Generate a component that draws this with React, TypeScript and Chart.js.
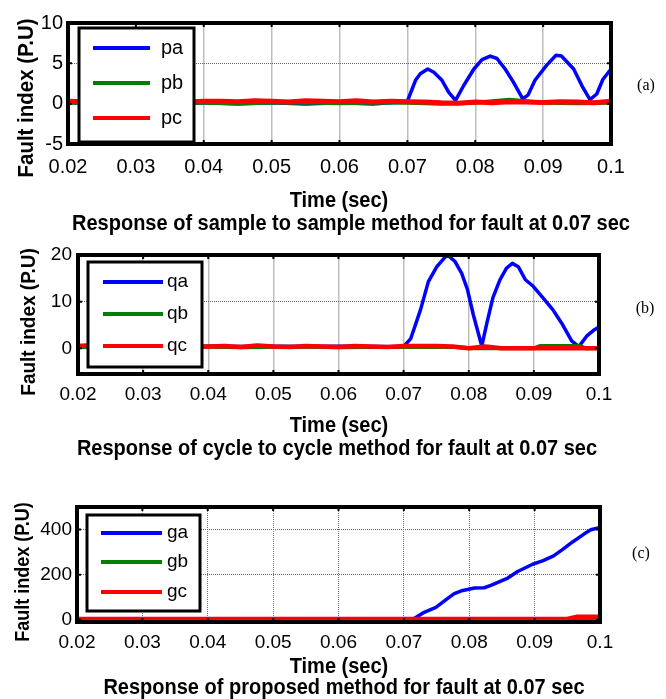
import React, { useEffect, useRef } from "react";
import { Chart, registerables } from "chart.js";

Chart.register(...registerables);

// ---------- shared axis data ----------
const X_TICKS = [0.02, 0.03, 0.04, 0.05, 0.06, 0.07, 0.08, 0.09, 0.1];
const X_TICK_LABELS = ["0.02", "0.03", "0.04", "0.05", "0.06", "0.07", "0.08", "0.09", "0.1"];

// ---------- panel (a): sample to sample ----------
const A_Y_TICKS = [-5, 0, 5, 10];
const A_Y_LABELS = ["-5", "0", "5", "10"];
const PA_T = [0.02, 0.025, 0.03, 0.035, 0.04, 0.045, 0.05, 0.055, 0.06, 0.065, 0.07, 0.0712, 0.0719, 0.073, 0.0739, 0.0751, 0.0761, 0.0771, 0.0783, 0.0798, 0.081, 0.0822, 0.0832, 0.0844, 0.0856, 0.087, 0.0878, 0.0888, 0.0905, 0.0919, 0.0927, 0.0945, 0.0957, 0.0969, 0.0979, 0.0988, 0.1];
const PA_V = [0.1, 0.15, 0.1, 0.05, 0.1, -0.05, 0.1, -0.05, 0.1, -0.05, 0.3, 2.9, 3.7, 4.3, 3.9, 2.9, 1.4, 0.4, 2.25, 4.3, 5.45, 5.9, 5.6, 4.3, 2.7, 0.6, 1.1, 2.9, 4.75, 6.0, 5.9, 4.3, 2.25, 0.5, 1.2, 3.0, 4.3];
const PB_T = [0.02, 0.025, 0.03, 0.035, 0.04, 0.045, 0.05, 0.055, 0.06, 0.065, 0.07, 0.075, 0.08, 0.085, 0.09, 0.095, 0.1];
const PB_V = [0.1, 0.05, 0.1, 0.15, 0.1, 0.05, 0.1, 0.15, 0.05, 0.1, 0.1, 0.0, 0.1, 0.5, 0.1, 0.05, 0.1];
const PC_T = [0.02, 0.0225, 0.025, 0.0275, 0.03, 0.0325, 0.035, 0.0375, 0.04, 0.0425, 0.045, 0.0475, 0.05, 0.0525, 0.055, 0.0575, 0.06, 0.0625, 0.065, 0.0675, 0.07, 0.0725, 0.075, 0.0775, 0.08, 0.0825, 0.085, 0.0875, 0.09, 0.0925, 0.095, 0.0975, 0.1];
const PC_V = [0.3, 0.25, 0.35, 0.2, 0.3, 0.25, 0.35, 0.2, 0.3, 0.3, 0.25, 0.35, 0.3, 0.2, 0.35, 0.3, 0.25, 0.35, 0.2, 0.3, 0.25, 0.2, 0.1, 0.05, 0.2, 0.1, 0.25, 0.2, 0.15, 0.25, 0.2, 0.1, 0.3];

// ---------- panel (b): cycle to cycle ----------
const B_Y_TICKS = [0, 10, 20];
const B_Y_LABELS = ["0", "10", "20"];
const QA_T = [0.02, 0.025, 0.03, 0.035, 0.04, 0.045, 0.05, 0.055, 0.06, 0.065, 0.07, 0.0711, 0.0726, 0.0738, 0.0751, 0.0764, 0.0769, 0.0779, 0.0789, 0.0798, 0.0807, 0.082, 0.0828, 0.0837, 0.0848, 0.0858, 0.0867, 0.0876, 0.0887, 0.0899, 0.0914, 0.0929, 0.0944, 0.0958, 0.0969, 0.0981, 0.0993, 0.1];
const QA_V = [0.45, 0.4, 0.45, 0.4, 0.45, 0.4, 0.45, 0.4, 0.45, 0.4, 0.36, 2.1, 8.3, 14.3, 17.5, 19.6, 19.8, 18.6, 16.1, 12.6, 7.2, 0.5, 5.5, 10.8, 14.7, 17.2, 18.2, 17.5, 14.7, 13.3, 10.8, 8.3, 5.1, 1.6, 0.36, 2.6, 4.0, 4.6];
const QB_T = [0.02, 0.025, 0.03, 0.035, 0.04, 0.045, 0.05, 0.055, 0.06, 0.065, 0.07, 0.075, 0.078, 0.08, 0.085, 0.09, 0.091, 0.097, 0.098, 0.1];
const QB_V = [0.3, 0.35, 0.25, 0.3, 0.35, 0.25, 0.3, 0.35, 0.25, 0.3, 0.3, 0.3, 0.3, 0, 0, 0, 0.5, 0.5, 0, 0];
const QC_T = [0.02, 0.0225, 0.025, 0.0275, 0.03, 0.0325, 0.035, 0.0375, 0.04, 0.0425, 0.045, 0.0475, 0.05, 0.0525, 0.055, 0.0575, 0.06, 0.0625, 0.065, 0.0675, 0.07, 0.0725, 0.075, 0.0775, 0.08, 0.0825, 0.085, 0.0875, 0.09, 0.0925, 0.095, 0.0975, 0.1];
const QC_V = [0.5, 0.7, 0.4, 0.5, 0.3, 0.4, 0.5, 0.3, 0.4, 0.5, 0.3, 0.6, 0.4, 0.3, 0.5, 0.4, 0.3, 0.5, 0.4, 0.3, 0.5, 0.5, 0.5, 0.4, 0.0, 0.4, 0.0, 0.0, 0.0, 0.0, 0.0, 0.0, 0.0];

// ---------- panel (c): proposed method ----------
const C_Y_TICKS = [0, 200, 400];
const C_Y_LABELS = ["0", "200", "400"];
const GA_T = [0.02, 0.03, 0.04, 0.05, 0.06, 0.07, 0.0714, 0.0731, 0.0749, 0.0764, 0.0777, 0.079, 0.0808, 0.0823, 0.0833, 0.0859, 0.0874, 0.0897, 0.0913, 0.0929, 0.0943, 0.0958, 0.0976, 0.0986, 0.0997, 0.1];
const GA_V = [0, 0, 0, 0, 0, 0, 2, 33, 55, 88, 116, 130, 141, 142, 152, 185, 214, 246, 262, 283, 312, 345, 381, 399, 407, 408];
const GB_T = [0.02, 0.05, 0.08, 0.1];
const GB_V = [0, 0, 0, 0];
const GC_T = [0.02, 0.04, 0.06, 0.08, 0.095, 0.0965, 0.1];
const GC_V = [2, 2, 2, 2, 2, 12, 12];

const W = 666;
const H = 699;
const SANS = '"Liberation Sans", Arial, Helvetica, sans-serif';
const SERIF = '"Liberation Serif", "Times New Roman", Times, serif';
const X_AXIS_H = 40;

const BLUE = "#0000ff";
const GREEN = "#008000";
const RED = "#ff0000";

type Series = { label: string; color: string; width: number; order: number; t: number[]; v: number[] };

type PanelSpec = {
  area: { left: number; top: number; right: number; bottom: number };
  yMin: number;
  yMax: number;
  yTicks: number[];
  yLabels: string[];
  tickSize: number;
  xPad: number;
  yPad: number;
  vGrid: { color: string; width: number; dash: number[] };
  hGrid: { color: string; width: number; dash: number[] };
  legend: { dx: number; dy: number; w: number; h: number; rows: number[]; lx0: number; lx1: number; tx: number; size: number };
  series: Series[];
};

const panelDecor = {
  id: "panelDecor",
  afterDatasetsDraw(chart: any, _args: any, opts: any) {
    const { ctx, chartArea: a, scales } = chart;
    ctx.save();
    ctx.strokeStyle = "#000";
    ctx.lineWidth = 2;
    const tl = 4;
    scales.x.ticks.forEach((t: any) => {
      const p = scales.x.getPixelForValue(t.value);
      ctx.beginPath();
      ctx.moveTo(p, a.top);
      ctx.lineTo(p, a.top + tl);
      ctx.moveTo(p, a.bottom);
      ctx.lineTo(p, a.bottom - tl);
      ctx.stroke();
    });
    scales.y.ticks.forEach((t: any) => {
      const p = scales.y.getPixelForValue(t.value);
      ctx.beginPath();
      ctx.moveTo(a.left, p);
      ctx.lineTo(a.left + tl, p);
      ctx.moveTo(a.right, p);
      ctx.lineTo(a.right - tl, p);
      ctx.stroke();
    });
    ctx.lineWidth = 4;
    ctx.strokeRect(a.left, a.top, a.right - a.left, a.bottom - a.top);

    const L = opts.legend;
    if (L) {
      const x0 = a.left + L.dx;
      const y0 = a.top + L.dy;
      ctx.fillStyle = "#fff";
      ctx.fillRect(x0, y0, L.w, L.h);
      ctx.lineWidth = 3;
      ctx.strokeStyle = "#000";
      ctx.strokeRect(x0, y0, L.w, L.h);
      ctx.font = `${L.size}px ${SANS}`;
      ctx.textBaseline = "middle";
      ctx.textAlign = "left";
      chart.data.datasets.forEach((ds: any, i: number) => {
        const ry = y0 + L.rows[i];
        ctx.strokeStyle = ds.borderColor;
        ctx.lineWidth = 4;
        ctx.beginPath();
        ctx.moveTo(x0 + L.lx0, ry);
        ctx.lineTo(x0 + L.lx1, ry);
        ctx.stroke();
        ctx.fillStyle = "#000";
        ctx.fillText(ds.label, x0 + L.tx, ry);
      });
    }
    ctx.restore();
  },
};

function buildConfig(spec: PanelSpec): any {
  const a = spec.area;
  return {
    type: "line",
    data: {
      datasets: spec.series.map((s) => ({
        label: s.label,
        data: s.t.map((t, i) => ({ x: t, y: s.v[i] })),
        borderColor: s.color,
        backgroundColor: s.color,
        borderWidth: s.width,
        pointRadius: 0,
        tension: 0,
        fill: false,
        order: s.order,
        borderJoinStyle: "round",
        borderCapStyle: "round",
      })),
    },
    options: {
      responsive: false,
      maintainAspectRatio: false,
      animation: false,
      events: [],
      layout: {
        autoPadding: false,
        padding: { left: 0, top: a.top, right: W - a.right, bottom: H - a.bottom - X_AXIS_H },
      },
      plugins: {
        legend: { display: false },
        tooltip: { enabled: false },
        title: { display: false },
        panelDecor: { legend: spec.legend },
      },
      scales: {
        x: {
          type: "linear",
          min: X_TICKS[0],
          max: X_TICKS[X_TICKS.length - 1],
          afterBuildTicks: (s: any) => {
            s.ticks = X_TICKS.map((v) => ({ value: v }));
          },
          afterFit: (s: any) => {
            s.height = X_AXIS_H;
          },
          ticks: {
            autoSkip: false,
            maxRotation: 0,
            minRotation: 0,
            padding: spec.xPad,
            color: "#000",
            font: { family: SANS, size: spec.tickSize },
            callback: (_v: any, i: number) => X_TICK_LABELS[i],
          },
          grid: { drawTicks: false, color: spec.vGrid.color, lineWidth: spec.vGrid.width },
          border: { display: false, dash: spec.vGrid.dash },
        },
        y: {
          type: "linear",
          min: spec.yMin,
          max: spec.yMax,
          afterBuildTicks: (s: any) => {
            s.ticks = spec.yTicks.map((v) => ({ value: v }));
          },
          afterFit: (s: any) => {
            s.width = a.left;
          },
          ticks: {
            autoSkip: false,
            padding: spec.yPad,
            color: "#000",
            font: { family: SANS, size: spec.tickSize },
            callback: (_v: any, i: number) => spec.yLabels[i],
          },
          grid: { drawTicks: false, color: spec.hGrid.color, lineWidth: spec.hGrid.width },
          border: { display: false, dash: spec.hGrid.dash },
        },
      },
    },
    plugins: [panelDecor],
  };
}

const PANELS: PanelSpec[] = [
  {
    area: { left: 68, top: 23, right: 611, bottom: 144 },
    yMin: -5,
    yMax: 10,
    yTicks: A_Y_TICKS,
    yLabels: A_Y_LABELS,
    tickSize: 20,
    xPad: 11,
    yPad: 5,
    vGrid: { color: "#bdbdbd", width: 1.5, dash: [] },
    hGrid: { color: "#666", width: 1, dash: [1, 1] },
    legend: { dx: 11, dy: 5, w: 115, h: 114, rows: [20, 55, 90], lx0: 14, lx1: 71, tx: 82, size: 20 },
    series: [
      { label: "pa", color: BLUE, width: 3.5, order: 2, t: PA_T, v: PA_V },
      { label: "pb", color: GREEN, width: 4, order: 1, t: PB_T, v: PB_V },
      { label: "pc", color: RED, width: 5, order: 0, t: PC_T, v: PC_V },
    ],
  },
  {
    area: { left: 78, top: 255, right: 599, bottom: 374 },
    yMin: -5.5,
    yMax: 20,
    yTicks: B_Y_TICKS,
    yLabels: B_Y_LABELS,
    tickSize: 19,
    xPad: 9,
    yPad: 6,
    vGrid: { color: "#bdbdbd", width: 1.5, dash: [] },
    hGrid: { color: "#666", width: 1, dash: [1, 1] },
    legend: { dx: 10, dy: 7, w: 114, h: 105, rows: [20, 52, 84], lx0: 15, lx1: 75, tx: 79, size: 19 },
    series: [
      { label: "qa", color: BLUE, width: 3.5, order: 2, t: QA_T, v: QA_V },
      { label: "qb", color: GREEN, width: 4, order: 1, t: QB_T, v: QB_V },
      { label: "qc", color: RED, width: 4.5, order: 0, t: QC_T, v: QC_V },
    ],
  },
  {
    area: { left: 77, top: 507, right: 600, bottom: 622 },
    yMin: -10,
    yMax: 500,
    yTicks: C_Y_TICKS,
    yLabels: C_Y_LABELS,
    tickSize: 19,
    xPad: 9,
    yPad: 5,
    vGrid: { color: "#777", width: 1, dash: [1, 1] },
    hGrid: { color: "#666", width: 1, dash: [1, 1] },
    legend: { dx: 10, dy: 8, w: 113, h: 96, rows: [18, 47, 77], lx0: 14, lx1: 75, tx: 80, size: 19 },
    series: [
      { label: "ga", color: BLUE, width: 3.5, order: 2, t: GA_T, v: GA_V },
      { label: "gb", color: GREEN, width: 4, order: 1, t: GB_T, v: GB_V },
      { label: "gc", color: RED, width: 5, order: 0, t: GC_T, v: GC_V },
    ],
  },
];

type TextSpec = { text: string; x: number; y: number; size: number; bold?: boolean; rotate?: boolean; serif?: boolean };

const TEXTS: TextSpec[] = [
  { text: "Fault index (P.U)", x: 26, y: 98, size: 20.5, bold: true, rotate: true },
  { text: "Time (sec)", x: 339, y: 199, size: 20, bold: true },
  { text: "Response of sample to sample method for fault at 0.07 sec", x: 351, y: 222, size: 20, bold: true },
  { text: "(a)", x: 646, y: 85, size: 16, serif: true },
  { text: "Fault index (P.U)", x: 28, y: 322, size: 19, bold: true, rotate: true },
  { text: "Time (sec)", x: 339, y: 424, size: 20, bold: true },
  { text: "Response of cycle to cycle method for fault at 0.07 sec", x: 337, y: 447, size: 20, bold: true },
  { text: "(b)", x: 645, y: 308, size: 16, serif: true },
  { text: "Fault index (P.U)", x: 22, y: 572, size: 18, bold: true, rotate: true },
  { text: "Time (sec)", x: 339, y: 665, size: 20, bold: true },
  { text: "Response of proposed method for fault at 0.07 sec", x: 344, y: 686, size: 20, bold: true },
  { text: "(c)", x: 641, y: 553, size: 16, serif: true },
];

function Panel({ spec }: { spec: PanelSpec }) {
  const ref = useRef<HTMLCanvasElement | null>(null);
  useEffect(() => {
    if (!ref.current) return;
    const chart = new Chart(ref.current, buildConfig(spec));
    return () => chart.destroy();
  }, [spec]);
  return (
    <canvas
      ref={ref}
      width={W}
      height={H}
      style={{ position: "absolute", left: 0, top: 0, width: W, height: H }}
    />
  );
}

export default function App() {
  return (
    <div
      style={{
        position: "absolute",
        left: 0,
        top: 0,
        width: W,
        height: H,
        background: "#fff",
        overflow: "hidden",
      }}
    >
      {PANELS.map((p, i) => (
        <Panel key={i} spec={p} />
      ))}
      {TEXTS.map((t, i) => (
        <div
          key={`t${i}`}
          style={{
            position: "absolute",
            left: t.x,
            top: t.y,
            transform: `translate(-50%, -50%)${t.rotate ? " rotate(-90deg)" : ""}${t.bold ? " scale(1, 1.1)" : ""}`,
            whiteSpace: "nowrap",
            fontFamily: t.serif ? SERIF : SANS,
            fontWeight: t.bold ? 700 : 400,
            fontSize: t.size,
            lineHeight: 1,
            color: "#000",
          }}
        >
          {t.text}
        </div>
      ))}
    </div>
  );
}
